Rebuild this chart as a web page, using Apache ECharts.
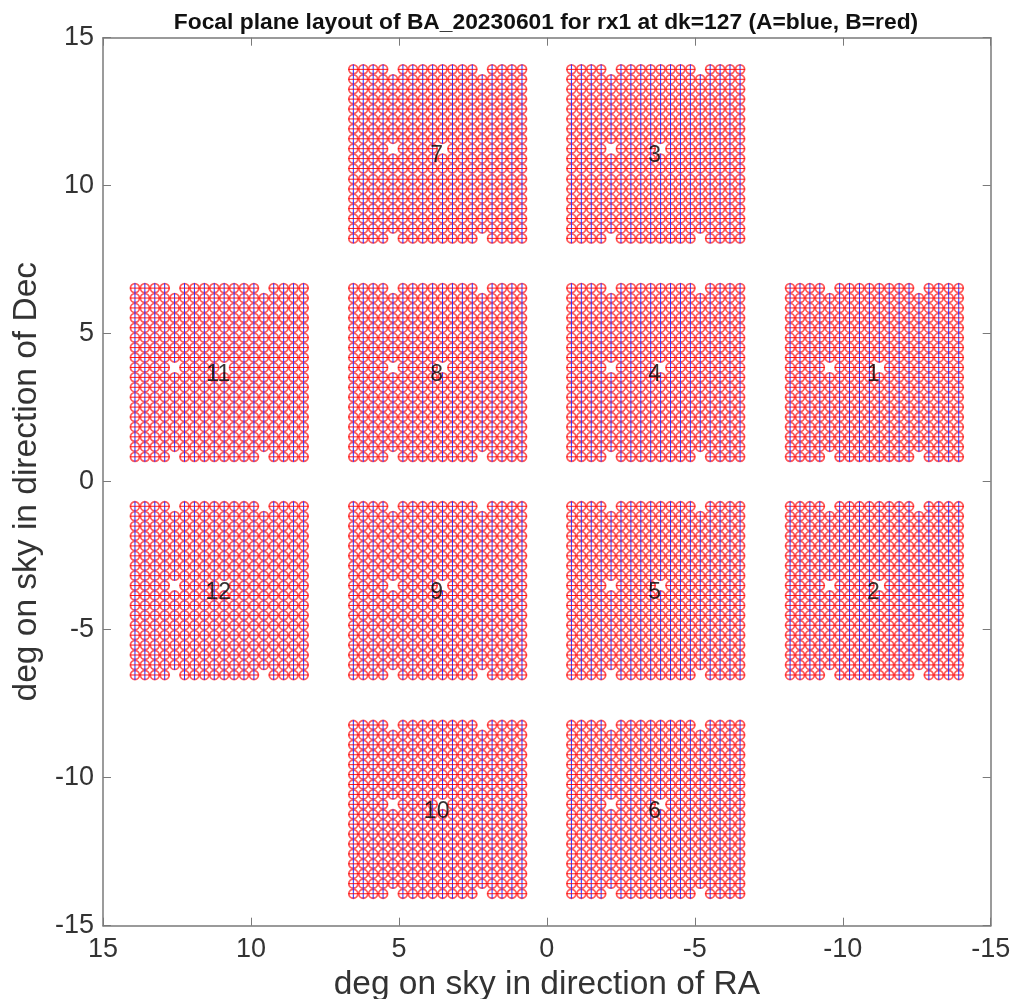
<!DOCTYPE html>
<html><head><meta charset="utf-8">
<style>html,body{margin:0;padding:0;background:#fff}#c{width:1015px;height:999px;filter:blur(0.5px)}</style>
<script src="https://cdn.jsdelivr.net/npm/echarts@6/dist/echarts.min.js"></script>
</head><body><div id="c"></div>
<script>
const titleText = 'Focal plane layout of BA_20230601 for rx1 at dk=127 (A=blue, B=red)';
const xName = 'deg on sky in direction of RA';
const yName = 'deg on sky in direction of Dec';
const tileIds = ['1','2','3','4','5','6','7','8','9','10','11','12'];
const tileRa  = [-11.07,-11.07,-3.68,-3.68,-3.68,-3.68,3.69,3.69,3.69,3.69,11.07,11.07];
const tileDec = [3.69,-3.68,11.07,3.69,-3.68,-11.07,11.07,3.69,-3.68,-11.07,3.69,-3.68];
const colOffsets = [2.85,2.515,2.18,1.845,1.51,1.175,0.84,0.505,0.17,-0.165,-0.5,-0.835,-1.17,-1.505,-1.84,-2.175,-2.51,-2.85];
const rowOffsets = [2.85,2.515,2.18,1.845,1.51,1.175,0.84,0.505,0.17,-0.165,-0.5,-0.835,-1.17,-1.505,-1.84,-2.175,-2.51,-2.85];
const rowOffsetsSplit = [2.86,2.525,2.19,1.855,1.52,1.185,0.85,0.515,0.18,-0.155,-0.49,-0.85,-1.18,-1.51,-1.845,-2.18,-2.515,-2.85];
const splitTiles = ['3','7'];
const missingCells = [[0,4],[0,13],[17,4],[17,13],[8,4],[8,9]];

const pts = [];
tileIds.forEach((id, t) => {
  const rows = splitTiles.includes(id) ? rowOffsetsSplit : rowOffsets;
  rows.forEach((ro, r) => colOffsets.forEach((co, c) => {
    if (!missingCells.some(m => m[0] === r && m[1] === c)) pts.push([tileRa[t] + co, tileDec[t] + ro]);
  }));
});
const labels = tileIds.map((id, t) => ({value: [tileRa[t], tileDec[t]], name: id}));

const R = 4.5, H = 5.0;
function ring(color, w) {
  return (p, api) => {
    const q = api.coord([api.value(0), api.value(1)]);
    return {type:'circle', shape:{cx:q[0], cy:q[1], r:R}, silent:true,
      style:{fill:null, stroke:color, lineWidth:w}};
  };
}
function seg(color, vertical) {
  return (p, api) => {
    const q = api.coord([api.value(0), api.value(1)]);
    const shape = vertical ? {x1:q[0],y1:q[1]-H,x2:q[0],y2:q[1]+H} : {x1:q[0]-H,y1:q[1],x2:q[0]+H,y2:q[1]};
    return {type:'line', shape, silent:true, style:{stroke:color, lineWidth:1}};
  };
}
const base = {type:'custom', data:pts, coordinateSystem:'cartesian2d', animation:false, silent:true, clip:false, progressive:0, progressiveThreshold:1e7};
const axisCommon = {
  min:-15, max:15, interval:5,
  axisLine:{show:true, onZero:false, lineStyle:{color:'#7a7a7a', width:1.5}},
  axisTick:{show:true, inside:true, length:8, lineStyle:{color:'#7a7a7a', width:1}},
  splitLine:{show:false}
};
const tickText = {color:'#333', fontFamily:'Liberation Sans', fontSize:27};
const nameText = {color:'#333', fontFamily:'Liberation Sans', fontSize:33.5};

const chart = echarts.init(document.getElementById('c'), null, {renderer:'canvas'});
chart.setOption({
  animation:false,
  title:{text:titleText, left:541, top:6, textAlign:'center',
    textStyle:{fontFamily:'Liberation Sans', fontWeight:'bold', fontSize:22.8, color:'#111'}},
  grid:{left:103, right:24.3, top:37.7, bottom:73.3, outerBoundsMode:'none'},
  xAxis:[
    {...axisCommon, type:'value', inverse:true, position:'bottom', name:xName, nameLocation:'middle', nameGap:39, nameTextStyle:nameText,
      axisLabel:{...tickText, margin:10, showMinLabel:true, showMaxLabel:true}},
    {...axisCommon, type:'value', inverse:true, position:'top', axisLabel:{show:false}}
  ],
  yAxis:[
    {...axisCommon, type:'value', position:'left', name:yName, nameLocation:'middle', nameGap:45, nameTextStyle:nameText,
      axisLabel:{...tickText, margin:9, showMinLabel:true, showMaxLabel:true}},
    {...axisCommon, type:'value', position:'right', axisLabel:{show:false}}
  ],
  series:[
    {...base, name:'B rings', renderItem:ring('#ff5a5a',1.8)},
    {...base, name:'A', renderItem:seg('#2a2aff',true)},
    {...base, name:'B', renderItem:seg('rgba(255,0,0,0.9)',false)},
    {type:'scatter', name:'tiles', data:labels, symbolSize:0, animation:false, silent:true, z:10,
      label:{show:true, position:'inside', offset:[-1,2], formatter:p=>p.name, color:'#000', fontFamily:'Liberation Sans', fontSize:23}}
  ]
});
</script></body></html>
